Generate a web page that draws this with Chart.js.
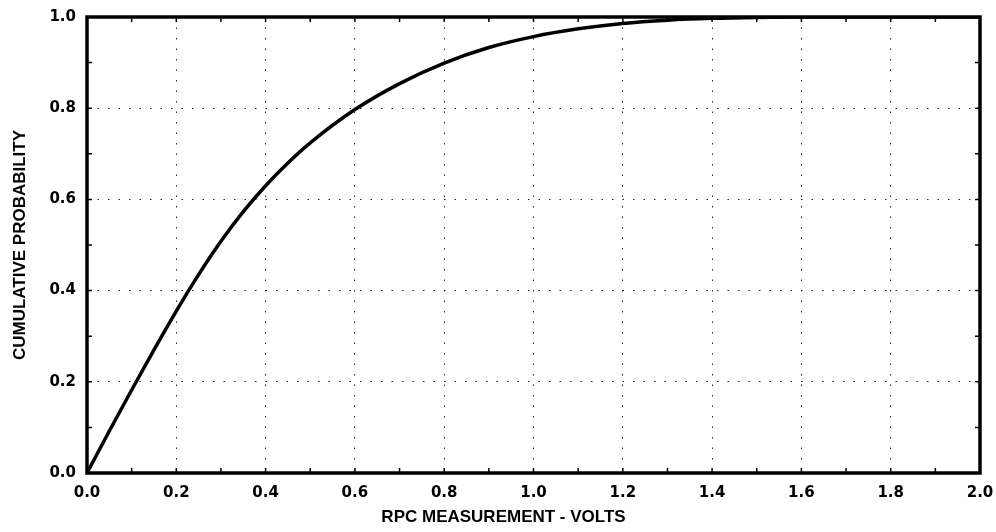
<!DOCTYPE html>
<html>
<head>
<meta charset="utf-8">
<script src="https://cdn.jsdelivr.net/npm/chart.js@4"></script>
<style>
  html, body { margin: 0; padding: 0; background: #fff; }
  #wrap { width: 996px; height: 532px; }
</style>
</head>
<body>
<div id="wrap"><canvas id="cdf" width="996" height="532"></canvas></div>
<script>
// RPC voltage vs cumulative probability
const volts = [0, 0.05, 0.1, 0.15, 0.2, 0.25, 0.3, 0.35, 0.4, 0.45, 0.5, 0.6, 0.7, 0.8, 0.9, 1.0, 1.1, 1.2, 1.3, 1.4, 1.5, 1.6, 1.8, 2.0];
const cumProb = [0, 0.092, 0.182, 0.27, 0.355, 0.435, 0.508, 0.573, 0.63, 0.68, 0.724, 0.797, 0.854, 0.899, 0.933, 0.957, 0.974, 0.986, 0.993, 0.997, 0.999, 1.0, 1.0, 1.0];

const xTickVals = [0, 0.2, 0.4, 0.6, 0.8, 1.0, 1.2, 1.4, 1.6, 1.8, 2.0];
const xTickLabels = ['0.0', '0.2', '0.4', '0.6', '0.8', '1.0', '1.2', '1.4', '1.6', '1.8', '2.0'];
const yTickVals = [0, 0.2, 0.4, 0.6, 0.8, 1.0];
const yTickLabels = ['0.0', '0.2', '0.4', '0.6', '0.8', '1.0'];

const xTitle = 'RPC MEASUREMENT - VOLTS';
const yTitle = 'CUMULATIVE PROBABILITY';

const tickFont = { family: 'DejaVu Sans', size: 15, weight: 'bold' };

// heavy frame, small inward ticks and the x title
const framePlugin = {
  id: 'frame',
  afterDraw(chart) {
    const { ctx, chartArea: a, scales } = chart;
    ctx.save();
    ctx.strokeStyle = '#000';
    ctx.lineWidth = 1.5;
    for (let i = 0; i <= 20; i++) {
      const px = scales.x.getPixelForValue(i / 10);
      ctx.beginPath();
      ctx.moveTo(px, a.bottom); ctx.lineTo(px, a.bottom - 5);
      ctx.moveTo(px, a.top); ctx.lineTo(px, a.top + 5);
      ctx.stroke();
    }
    for (let i = 0; i <= 10; i++) {
      const py = scales.y.getPixelForValue(i / 10);
      ctx.beginPath();
      ctx.moveTo(a.left, py); ctx.lineTo(a.left + 5, py);
      ctx.moveTo(a.right, py); ctx.lineTo(a.right - 5, py);
      ctx.stroke();
    }
    ctx.lineWidth = 3.5;
    ctx.strokeRect(a.left, a.top, a.right - a.left, a.bottom - a.top);

    ctx.fillStyle = '#000';
    ctx.font = 'bold 17px "Liberation Sans", Arial, sans-serif';
    ctx.textAlign = 'center';
    ctx.textBaseline = 'middle';
    ctx.fillText(xTitle, (a.left + a.right) / 2 - 30, 517);
    ctx.restore();
  }
};

new Chart(document.getElementById('cdf'), {
  type: 'scatter',
  data: {
    datasets: [{
      data: volts.map((v, i) => ({ x: v, y: cumProb[i] })),
      showLine: true,
      borderColor: '#000',
      borderWidth: 3.5,
      pointRadius: 0,
      cubicInterpolationMode: 'monotone',
      fill: false
    }]
  },
  options: {
    responsive: false,
    animation: false,
    layout: { padding: { top: 17, right: 16, left: 0, bottom: 0 } },
    plugins: {
      legend: { display: false },
      tooltip: { enabled: false }
    },
    scales: {
      x: {
        type: 'linear',
        min: 0,
        max: 2,
        afterBuildTicks: s => { s.ticks = xTickVals.map(v => ({ value: v })); },
        afterFit: s => { s.height = 59; s.paddingLeft = 0; s.paddingRight = 0; },
        ticks: {
          color: '#000',
          font: tickFont,
          padding: 11,
          maxRotation: 0,
          callback: (v, i) => xTickLabels[i]
        },
        grid: { color: '#2a2a2a', lineWidth: 1, drawTicks: false },
        border: { display: false, dash: [1.5, 9] }
      },
      y: {
        min: 0,
        max: 1,
        afterBuildTicks: s => { s.ticks = yTickVals.map(v => ({ value: v })); },
        afterFit: s => { s.width = 87; s.paddingTop = 0; s.paddingBottom = 0; },
        ticks: {
          color: '#000',
          font: tickFont,
          padding: 11,
          callback: (v, i) => yTickLabels[i]
        },
        grid: { color: '#2a2a2a', lineWidth: 1, drawTicks: false },
        border: { display: false, dash: [1.5, 9] },
        title: {
          display: true,
          text: yTitle,
          color: '#000',
          font: { family: 'Liberation Sans', size: 17, weight: 'bold' },
          padding: { top: 10, bottom: 0 }
        }
      }
    }
  },
  plugins: [framePlugin]
});
</script>
</body>
</html>
